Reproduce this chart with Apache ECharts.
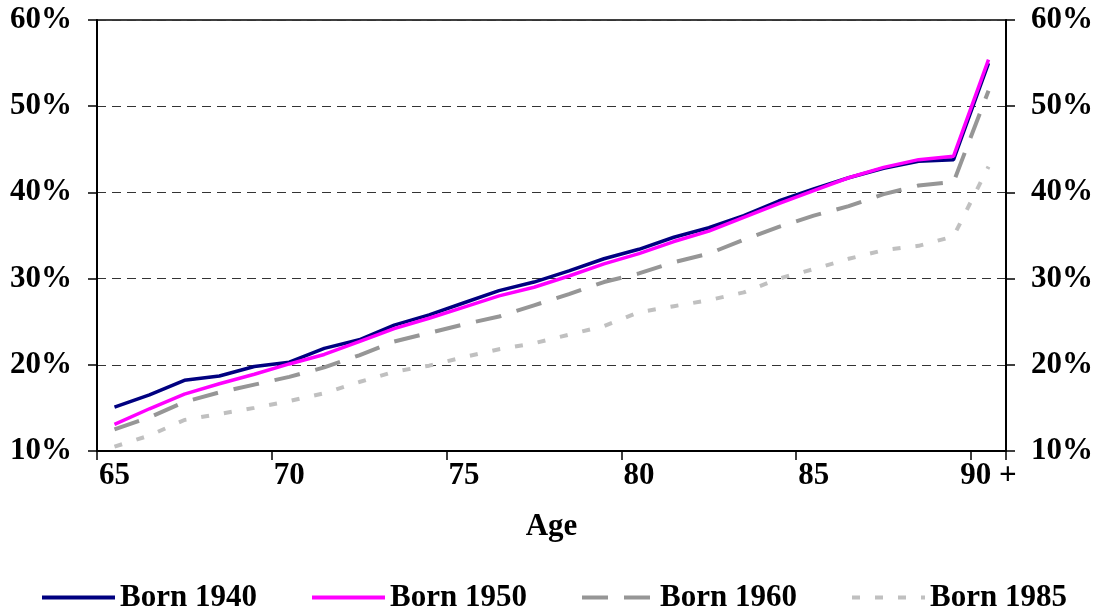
<!DOCTYPE html>
<html>
<head>
<meta charset="utf-8">
<style>
  html, body { margin: 0; padding: 0; background: #fff; }
  #chart { width: 1099px; height: 611px; }
</style>
<script src="https://cdn.jsdelivr.net/npm/echarts@6/dist/echarts.min.js"></script>
</head>
<body>
<div id="chart"></div>
<script>
// Ages on the horizontal axis (last bucket is 90 and over)
const ages = ['65','66','67','68','69','70','71','72','73','74','75','76','77','78','79',
              '80','81','82','83','84','85','86','87','88','89','90 +'];

// Share (%) by age for each birth cohort
const born1940 = [15.1,16.5,18.2,18.7,19.8,20.3,21.9,22.9,24.6,25.8,27.2,28.6,29.6,30.9,32.3,
                  33.4,34.8,35.9,37.3,39.0,40.4,41.7,42.8,43.6,43.8,55.0];
const born1950 = [13.1,14.9,16.6,17.8,18.9,20.1,21.2,22.7,24.2,25.4,26.7,28.0,29.0,30.3,31.7,
                  32.9,34.3,35.5,37.1,38.7,40.2,41.7,42.9,43.8,44.2,55.4];
const born1960 = [12.5,13.9,15.7,16.8,17.7,18.6,19.7,21.1,22.7,23.7,24.7,25.6,26.9,28.2,29.6,
                  30.6,31.9,32.9,34.5,36.0,37.3,38.4,39.8,40.8,41.2,51.8];
const born1985 = [10.5,11.8,13.6,14.3,15.0,15.8,16.7,18.0,19.2,19.9,20.9,21.8,22.5,23.5,24.5,
                  26.1,26.8,27.5,28.4,30.0,31.1,32.3,33.3,33.8,34.9,43.0];

const seriesNames = ['Born 1940', 'Born 1950', 'Born 1960', 'Born 1985'];

const FONT = "'Liberation Serif', 'Times New Roman', serif";
const textBase = { fontFamily: FONT, fontWeight: 'bold', fontSize: 31, color: '#000' };

function valueAxis(position) {
  return {
    type: 'value',
    position: position,
    min: 10,
    max: 60,
    interval: 10,
    axisLine: { show: true, lineStyle: { color: '#000', width: 2 } },
    axisTick: { show: true, inside: false, length: 9, lineStyle: { color: '#000', width: 1.5 } },
    axisLabel: Object.assign({ formatter: '{value}%', margin: 25 }, textBase),
    splitLine: position === 'left'
      ? { show: true, lineStyle: { color: '#333', width: 1.2, type: [9, 6] } }
      : { show: false }
  };
}

function lineSeries(name, data, color, width, dash, z) {
  return {
    name: name,
    type: 'line',
    data: data,
    yAxisIndex: 0,
    symbol: 'none',
    showSymbol: false,
    smooth: false,
    animation: false,
    lineStyle: { color: color, width: width, type: dash, cap: 'butt' },
    itemStyle: { color: color },
    z: z
  };
}

const legendLefts = [35, 305, 575, 845];

const option = {
  backgroundColor: '#fff',
  animation: false,
  grid: {
    left: 97, right: 93, top: 20, bottom: 160,
    show: true, borderColor: '#000', borderWidth: 1.5, backgroundColor: 'transparent'
  },
  xAxis: {
    type: 'category',
    data: ages,
    boundaryGap: true,
    name: 'Age',
    nameLocation: 'middle',
    nameGap: 60,
    nameTextStyle: textBase,
    axisLine: { show: true, lineStyle: { color: '#000', width: 2 } },
    axisTick: { show: true, interval: 4, length: 9, lineStyle: { color: '#000', width: 1.5 } },
    axisLabel: Object.assign({ interval: 4, margin: 9 }, textBase),
    splitLine: { show: false }
  },
  yAxis: [valueAxis('left'), valueAxis('right')],
  // one legend block per cohort so each entry sits at its own column
  legend: seriesNames.map((n, i) => ({
    data: [n],
    left: legendLefts[i],
    top: 577,
    itemWidth: 73,
    itemHeight: 14,
    itemGap: 0,
    textStyle: textBase,
    itemStyle: { opacity: 0 },
    lineStyle: { width: 4 },
    selectedMode: false
  })),
  series: [
    lineSeries(seriesNames[0], born1940, '#000080', 3.5, 'solid', 4),
    lineSeries(seriesNames[1], born1950, '#ff00ff', 3.5, 'solid', 5),
    lineSeries(seriesNames[2], born1960, '#969696', 4, [26, 16], 3),
    lineSeries(seriesNames[3], born1985, '#c0c0c0', 4, [8, 15], 2)
  ]
};

const chart = echarts.init(document.getElementById('chart'), null, { renderer: 'canvas' });
chart.setOption(option);
</script>
</body>
</html>
